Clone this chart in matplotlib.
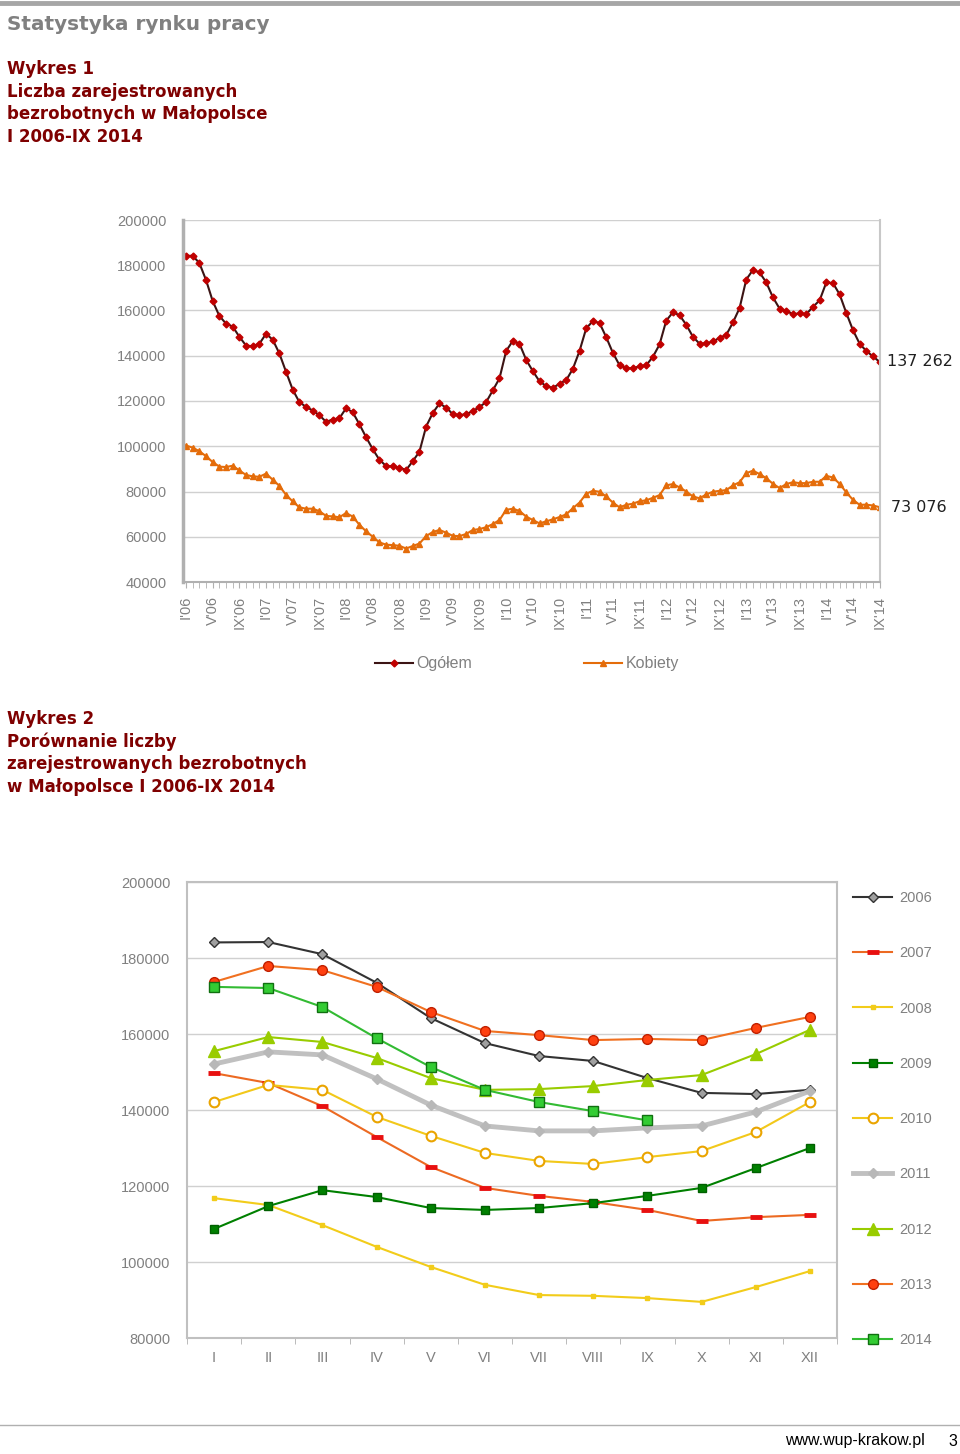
import numpy as np
import matplotlib.pyplot as plt
from matplotlib.ticker import MultipleLocator, FixedLocator

# Ogolem (registered unemployed) by year, months I..XII
y2006 = [184100, 184200, 181000, 173500, 164200, 157600, 154200, 152900, 148400, 144500, 144200, 145300]
y2007 = [149700, 147100, 141000, 132900, 125000, 119500, 117400, 115800, 113700, 110800, 111800, 112400]
y2008 = [116800, 115000, 109700, 104000, 98700, 94000, 91300, 91100, 90500, 89500, 93400, 97600]
y2009 = [108700, 114700, 118900, 117100, 114200, 113700, 114200, 115500, 117400, 119500, 124700, 130000]
y2010 = [142100, 146600, 145300, 138200, 133200, 128700, 126600, 125800, 127600, 129200, 134200, 142100]
y2011 = [152100, 155300, 154500, 148200, 141300, 135800, 134500, 134500, 135300, 135800, 139500, 145000]
y2012 = [155500, 159200, 157900, 153700, 148400, 145300, 145500, 146300, 147900, 149200, 154700, 161100]
y2013 = [173700, 177900, 176800, 172400, 165800, 160800, 159700, 158400, 158700, 158400, 161600, 164500]
y2014 = [172400, 172100, 167100, 158900, 151300, 145300, 142100, 139700, 137262]

# Kobiety (women), monthly I 2006 - IX 2014
kobiety = [100300, 99400, 97800, 95600, 93000, 91000, 90800, 91400, 89300, 87300, 86700, 86500,
           87900, 85200, 82500, 78500, 75600, 73000, 72400, 72400, 71300, 69200, 69000, 68600,
           70500, 68900, 65300, 62400, 60000, 57500, 56500, 56300, 56000, 54800, 55900, 57000,
           60300, 62100, 63000, 61800, 60400, 60300, 61200, 63000, 63400, 64200, 65600, 67400,
           71900, 72400, 71400, 68900, 67400, 65900, 66800, 67700, 68700, 69900, 72600, 75100,
           79000, 80300, 79900, 77800, 75100, 73000, 74100, 74600, 75700, 76100, 77200, 78400,
           82700, 83300, 81800, 80000, 77800, 77000, 78700, 79900, 80300, 80600, 82700, 84100,
           88100, 89200, 87700, 85900, 83400, 81500, 83300, 84100, 83700, 83700, 84300, 84300,
           86900, 86200, 83400, 79600, 76300, 74100, 74200, 73800, 73076]

years = ['2006', '2007', '2008', '2009', '2010', '2011', '2012', '2013', '2014']
roman = ['I', 'II', 'III', 'IV', 'V', 'VI', 'VII', 'VIII', 'IX', 'X', 'XI', 'XII']

ogolem = y2006 + y2007 + y2008 + y2009 + y2010 + y2011 + y2012 + y2013 + y2014
month_labels = []
for yr in years:
    for r in roman:
        month_labels.append(r + "'" + yr[2:])
month_labels = month_labels[:len(ogolem)]

W, H = 960, 1454
fig = plt.figure(figsize=(W / 100, H / 100), dpi=100)
grey = '#808080'
darkred = '#7f0000'

# header / footer
fig.add_artist(plt.Line2D([0, 1], [1 - 3 / H, 1 - 3 / H], color='#a6a6a6', lw=3.5))
fig.text(7 / W, 1 - 24 / H, 'Statystyka rynku pracy', color=grey, fontsize=14.4, fontweight='bold', va='center')
for k, line in enumerate(['Wykres 1', 'Liczba zarejestrowanych', 'bezrobotnych w Małopolsce', 'I 2006-IX 2014']):
    fig.text(7 / W, 1 - (69 + 22.7 * k) / H, line, color=darkred, fontsize=12, fontweight='bold', va='center')
for k, line in enumerate(['Wykres 2', 'Porównanie liczby', 'zarejestrowanych bezrobotnych',
                          'w Małopolsce I 2006-IX 2014']):
    fig.text(7 / W, 1 - (719 + 22.7 * k) / H, line, color=darkred, fontsize=12, fontweight='bold', va='center')
fig.add_artist(plt.Line2D([0, 1], [1 - 1425 / H, 1 - 1425 / H], color='#b0b0b0', lw=1))
fig.text(925 / W, 1 - 1441 / H, 'www.wup-krakow.pl', fontsize=11.5, ha='right', va='center',
         family='Liberation Sans')
fig.text(948 / W, 1 - 1441 / H, '3', fontsize=11.5, ha='left', va='center', family='Liberation Sans')

# ---- Wykres 1 ----
ax1 = fig.add_axes([183 / W, 1 - 582 / H, (880 - 183) / W, (582 - 220) / H])
x = np.arange(len(ogolem))
ax1.plot(x, ogolem, color='#3c1414', lw=1.5, marker='D', ms=3.5, mfc='#c00000', mec='#c00000',
         label='Ogółem')
ax1.plot(x, kobiety, color='#e46c0a', lw=1.5, marker='^', ms=4, mfc='#e46c0a', mec='#e46c0a',
         label='Kobiety')
ax1.set_xlim(-0.45, len(ogolem) - 0.95)
ax1.set_ylim(40000, 200000)
ax1.yaxis.set_major_locator(MultipleLocator(20000))
ax1.grid(axis='y', color='#d0d0d0', lw=1)
ax1.set_axisbelow(True)
ax1.set_xticks(x[::4])
ax1.set_xticklabels(month_labels[::4], rotation=90, fontsize=10.5, color=grey, family='Liberation Sans')
ax1.xaxis.set_minor_locator(FixedLocator(x))
ax1.tick_params(axis='x', which='both', length=4, color='#b0b0b0', pad=6)
ax1.tick_params(axis='y', length=0, pad=12, labelsize=10.5, labelcolor=grey)
for lab in ax1.get_yticklabels():
    lab.set_family('Liberation Sans')
ax1.spines['top'].set_visible(False)
ax1.spines['left'].set_color('#b0b0b0')
ax1.spines['left'].set_linewidth(2.5)
ax1.spines['bottom'].set_color('#b0b0b0')
ax1.spines['bottom'].set_linewidth(1.5)
ax1.spines['right'].set_color('#c8c8c8')
ax1.spines['right'].set_linewidth(1.5)
ax1.annotate('137 262', (x[-1], ogolem[-1]), xytext=(5, 0), textcoords='offset points',
             fontsize=11.5, color='#202020', va='center', annotation_clip=False)
ax1.annotate('73 076', (x[-1], kobiety[-1]), xytext=(8.5, 0), textcoords='offset points',
             fontsize=11.5, color='#202020', va='center', annotation_clip=False)
fig.legend(*ax1.get_legend_handles_labels(), loc='center', bbox_to_anchor=(527 / W, 1 - 664 / H),
           ncol=2, frameon=False, handlelength=2.4, columnspacing=7, labelcolor=grey,
           handletextpad=0.2, prop={'family': 'Liberation Sans', 'size': 11.5})

# ---- Wykres 2 ----
ax2 = fig.add_axes([187 / W, 1 - 1338 / H, 650 / W, 456 / H])
xm = np.arange(12)
styles = {
    '2006': dict(color='#333333', lw=1.5, marker='D', ms=5, mfc='#a0a0a0', mec='#333333', mew=1),
    '2007': dict(color='#ec6a22', lw=1.5, marker='_', ms=8, mec='#e81010', mew=3.5),
    '2008': dict(color='#f2cc1a', lw=1.5, marker='s', ms=3, mfc='#f2cc1a', mec='#f2cc1a'),
    '2009': dict(color='#008000', lw=1.5, marker='s', ms=6, mfc='#008000', mec='#006000'),
    '2010': dict(color='#f2c81a', lw=1.5, marker='o', ms=7, mfc='white', mec='#eaa400', mew=1.5),
    '2011': dict(color='#c0c0c0', lw=3.5, marker='D', ms=5, mfc='#b8b8b8', mec='#b8b8b8'),
    '2012': dict(color='#99cc00', lw=1.5, marker='^', ms=8, mfc='#99cc00', mec='#99cc00'),
    '2013': dict(color='#f07020', lw=1.5, marker='o', ms=7, mfc='#ff4010', mec='#c02000', mew=1),
    '2014': dict(color='#33bb33', lw=1.5, marker='s', ms=7, mfc='#33cc33', mec='#107010', mew=1),
}
series = [y2006, y2007, y2008, y2009, y2010, y2011, y2012, y2013, y2014]
for yr, vals in zip(years, series):
    ax2.plot(xm[:len(vals)], vals, label=yr, **styles[yr])
ax2.set_xlim(-0.5, 11.5)
ax2.set_ylim(80000, 200000)
ax2.yaxis.set_major_locator(MultipleLocator(20000))
ax2.grid(axis='y', color='#d0d0d0', lw=1)
ax2.set_axisbelow(True)
ax2.set_xticks(xm)
ax2.set_xticklabels(roman, fontsize=10.5, color=grey, family='Liberation Sans')
ax2.xaxis.set_minor_locator(FixedLocator(np.arange(-0.5, 12, 1)))
ax2.tick_params(axis='x', which='major', length=0, pad=9)
ax2.tick_params(axis='x', which='minor', length=4, color='#b0b0b0')
ax2.tick_params(axis='y', length=0, pad=12, labelsize=10.5, labelcolor=grey)
for lab in ax2.get_yticklabels():
    lab.set_family('Liberation Sans')
for s in ax2.spines.values():
    s.set_color('#c0c0c0')
    s.set_linewidth(1.5)
ax2.legend(loc='upper left', bbox_to_anchor=(853 / W, 1 - 891 / H), bbox_transform=fig.transFigure,
           frameon=False, handlelength=2.7, labelspacing=2.83, labelcolor=grey, borderpad=0,
           borderaxespad=0, handletextpad=0.5, prop={'family': 'Liberation Sans', 'size': 10.5})

fig.savefig('out.png', dpi=100)
